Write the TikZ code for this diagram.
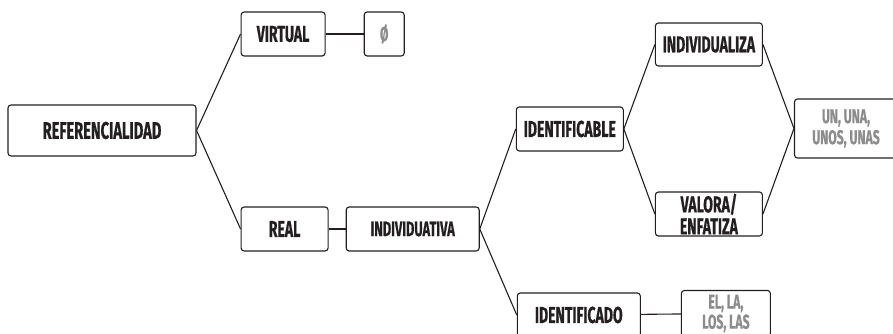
\documentclass[tikz,border=0pt]{standalone}
\usepackage{fontspec}
\setmainfont{Fira Sans}[FakeStretch=0.61, BoldFont={Fira Sans Bold}, BoldFeatures={FakeBold=0.6}]
\usepackage{tikz}
\usetikzlibrary{positioning}
\definecolor{boxline}{HTML}{231F20}
\definecolor{formtext}{HTML}{8C8C8C}

\begin{document}
\begin{tikzpicture}[
  x=1pt, y=1pt,
  box/.style={draw=boxline, line width=1.1pt, rounded corners=3pt, minimum height=44pt, inner sep=0pt, align=center, text=boxline, font=\fontsize{23}{22}\selectfont\bfseries},
  form/.style={box, text=formtext, font=\fontsize{20}{21}\selectfont\bfseries},
  link/.style={line width=1.1pt, boxline}
]
  \useasboundingbox (0,0) rectangle (893,334);
  \clip (0,0) rectangle (893,334);

  \node[box, minimum width=188pt, minimum height=51pt, font=\fontsize{24}{26}\selectfont\bfseries] (ref) at (102,203.5) {REFERENCIALIDAD};
  \node[box, minimum width=84pt, right=44pt of ref, yshift=96.5pt]   (virtual) {VIRTUAL};
  \node[form, minimum width=40pt, right=38pt of virtual]             (empty)   {Ø};
  \node[box, minimum width=87pt, right=44pt of ref, yshift=-98.5pt]  (real)    {REAL};
  \node[box, minimum width=133pt, right=17pt of real, font=\fontsize{21}{23}\selectfont\bfseries] (indiv) {INDIVIDUATIVA};
  \node[box, minimum width=107pt, right=36pt of indiv, yshift=100pt] (identable) {IDENTIFICABLE};
  \node[box, minimum width=123pt, right=37pt of indiv, yshift=-86pt] (identado)  {IDENTIFICADO};
  \node[form, minimum width=89pt, minimum height=46pt, right=40pt of identado, yshift=1.5pt, font=\fontsize{20}{20}\selectfont\bfseries] (def) {EL, LA,\\LOS, LAS};
  \node[box, minimum width=107pt, minimum height=43pt, right=31pt of identable, yshift=84.5pt] (indz) {INDIVIDUALIZA};
  \node[box, minimum width=107pt, right=31pt of identable, yshift=-85pt] (valora) {VALORA/\\ENFATIZA};
  \node[form, minimum width=103pt, minimum height=59pt, right=31pt of indz, yshift=-84pt] (indef) {UN, UNA,\\UNOS, UNAS};

  \draw[link] (ref.east)       -- (virtual.west);
  \draw[link] (ref.east)       -- (real.west);
  \draw[link] (virtual)        -- (empty);
  \draw[link] (real)           -- (indiv);
  \draw[link] (indiv.east)     -- (identable.west);
  \draw[link] (indiv.east)     -- (identado.west);
  \draw[link] (identado)       -- (def);
  \draw[link] (identable.east) -- (indz.west);
  \draw[link] (identable.east) -- (valora.west);
  \draw[link] (indz.east)      -- (indef.west);
  \draw[link] (valora.east)    -- (indef.west);
\end{tikzpicture}
\end{document}
